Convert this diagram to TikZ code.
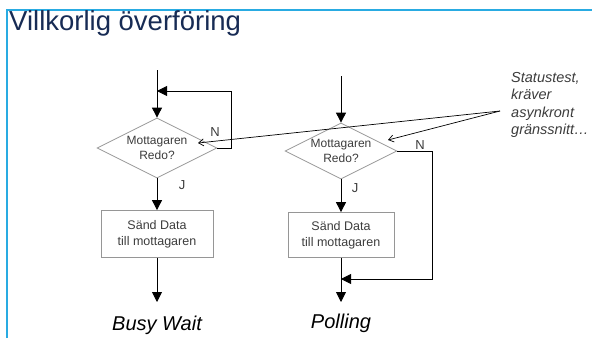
\documentclass[tikz,border=0pt]{standalone}
\usepackage{fontspec}
\setmainfont{Liberation Sans}
\usetikzlibrary{arrows.meta,shapes.geometric}
\definecolor{frameblue}{RGB}{41,171,226}
\definecolor{titlenavy}{RGB}{23,43,84}
\definecolor{shapegray}{RGB}{150,150,150}
\definecolor{textgray}{RGB}{60,60,60}
\tikzset{
  decision/.style={diamond,draw=shapegray,line width=0.8pt,aspect=2,inner sep=0pt,
    minimum width=#1,minimum height=0.5*#1,align=center,font=\fontsize{12}{15}\selectfont,text=textgray},
  action/.style={rectangle,draw=shapegray,line width=0.8pt,minimum width=112pt,minimum height=47pt,
    align=center,font=\fontsize{12.5}{16}\selectfont,text=textgray},
  flow/.style={line width=0.9pt,-{Triangle[width=10pt,length=10pt]}},
  flowline/.style={line width=0.9pt},
  callout/.style={line width=0.7pt,-{Straight Barb[length=5pt,width=7pt]}},
  tag/.style={font=\fontsize{13}{13}\selectfont,text=textgray},
  caption/.style={font=\fontsize{20}{20}\selectfont\itshape}
}
\begin{document}
\begin{tikzpicture}[x=1pt,y=-1pt]
\useasboundingbox (0,0) rectangle (592,338);
% frame and heading
\draw[frameblue,line width=2pt] (7,338) -- (7,10) -- (592,10);
\node[anchor=west,text=titlenavy,font=\fontsize{27.5}{27.5}\selectfont,inner sep=0pt] (title) at (9,23) {Villkorlig överföring};

% busy wait flow
\coordinate (inA) at (157,70);
\node[decision=120pt] (decA) at (157,148) {Mottagaren\\Redo?};
\node[action] (boxA) at (157,234) {Sänd Data\\till mottagaren};
\coordinate (endA) at (157,302);
\coordinate (loopA) at (157,91);
\draw[flowline] (inA) -- (loopA);
\draw[flow] (loopA) -- (decA.north);
\draw[flow] (decA.east) -- (231,148) -- (231,91) -- (loopA);
\draw[flow] (decA.south) -- (boxA.north);
\draw[flow] (boxA.south) -- (endA);
\node[tag] (nA) at (215,132) {N};
\node[tag] (jA) at (182,185) {J};
\node[caption] (capA) at (157,325) {Busy Wait};

% polling flow
\coordinate (inB) at (341,76);
\node[decision=112pt] (decB) at (341,151) {Mottagaren\\Redo?};
\node[action,minimum width=106pt,minimum height=45pt] (boxB) at (341,235) {Sänd Data\\till mottagaren};
\coordinate (joinB) at (341,279);
\coordinate (endB) at (341,302);
\draw[flow] (inB) -- (decB.north);
\draw[flow] (decB.south) -- (boxB.north);
\draw[flowline] (boxB.south) -- (joinB);
\draw[flow] (joinB) -- (endB);
\draw[flow] (decB.east) -- (432,151) -- (432,279) -- (joinB);
\node[tag] (nB) at (420,145) {N};
\node[tag] (jB) at (355,188) {J};
\node[caption] (capB) at (341,323) {Polling};

% annotation
\node[anchor=north west,align=left,font=\fontsize{14.5}{17.5}\selectfont\itshape,text=textgray,inner sep=0pt] (note) at (511,72)
  {Statustest,\\kräver\\asynkront\\gränssnitt…};
\coordinate (tip) at (500,111);
\draw[callout] (tip) -- (198,143);
\draw[callout] (tip) -- (388,140);
\end{tikzpicture}
\end{document}
